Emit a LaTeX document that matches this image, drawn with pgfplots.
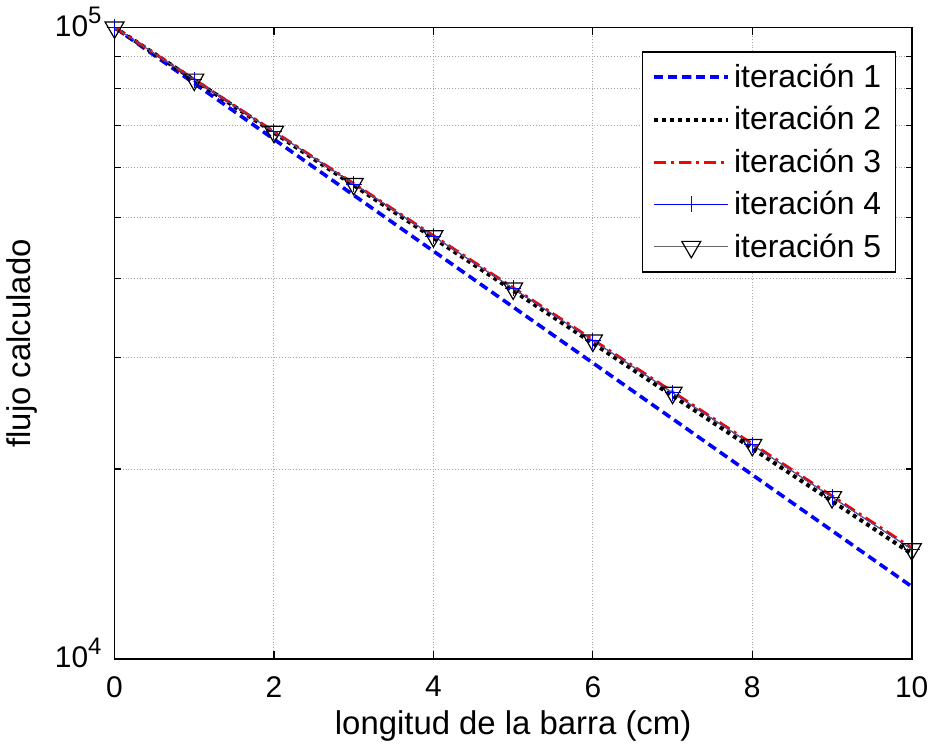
\documentclass[border=0pt]{standalone}
\usepackage{pgfplots}
\pgfplotsset{compat=1.18}
\usepackage{fontspec}
\setmainfont{Liberation Sans}

\definecolor{mblue}{RGB}{0,0,255}
\definecolor{mred}{RGB}{255,0,0}

\newcommand{\tenpow}[1]{10\raisebox{6.5pt}{\fontsize{12}{12}\selectfont #1}}

\begin{document}
\begin{tikzpicture}
  \begin{semilogyaxis}[
      scale only axis,
      width=400pt, height=317pt,
      xmin=0, xmax=10, ymin=1e4, ymax=1e5,
      xtick={0,2,4,6,8,10},
      ytick={1e4,1e5},
      yticklabels={\tenpow{4}, \tenpow{5}},
      /pgf/number format/assume math mode=true,
      tick label style={font=\fontsize{15}{18}\selectfont},
      xticklabel style={yshift=-5pt},
      yticklabel style={xshift=-3pt, yshift=3pt},
      label style={font=\fontsize{16.5}{20}\selectfont},
      xlabel={longitud de la barra (cm)},
      ylabel={flujo calculado},
      xlabel style={yshift=0pt},
      ylabel style={yshift=2pt},
      tick align=inside,
      major tick length=4pt,
      minor tick length=3pt,
      xmajorgrids, ymajorgrids, yminorgrids,
      major grid style={densely dotted, gray!70, line width=0.5pt},
      minor grid style={densely dotted, gray!70, line width=0.5pt},
      axis line style={line width=0.8pt},
      every tick/.style={black, line width=0.6pt},
      legend cell align=left,
      legend style={at={(0.98,0.962)}, anchor=north east,
        font=\fontsize{16}{19}\selectfont, draw=black, line width=0.6pt,
        row sep=4pt, inner xsep=5pt, inner ysep=4pt},
      legend image code/.code={%
        \draw[mark repeat=2,mark phase=2,#1]
          plot coordinates {(0cm,0cm) (0.65cm,0cm) (1.3cm,0cm)};},
    ]
    \addplot[mblue, line width=1.8pt, dash pattern=on 4.5pt off 2.5pt] coordinates {
      (0,100000) (1,81564) (2,66527) (3,54262) (4,44258) (5,36099)
      (6,29444) (7,24016) (8,19588) (9,15977) (10,13032)
    };
    \addlegendentry{iteración 1}
    \addplot[black, line width=2pt, dash pattern=on 2pt off 2pt] coordinates {
      (0,100000) (1,82546) (2,68138) (3,56245) (4,46428) (5,38324)
      (6,31635) (7,26113) (8,21555) (9,17793) (10,14687)
    };
    \addlegendentry{iteración 2}
    \addplot[mred, line width=1.5pt, dash pattern=on 6pt off 2.5pt on 1.5pt off 2.5pt] coordinates {
      (0,100000) (1,82720) (2,68420) (3,56600) (4,46820) (5,38730)
      (6,32040) (7,26500) (8,21920) (9,18130) (10,15000)
    };
    \addlegendentry{iteración 3}
    \addplot[mblue, line width=0.5pt, mark=+, mark size=4pt] coordinates {
      (0,100000) (1,82680) (2,68360) (3,56520) (4,46731) (5,38637)
      (6,31945) (7,26412) (8,21837) (9,18055) (10,14928)
    };
    \addlegendentry{iteración 4}
    \addplot[gray!80!black, line width=0.4pt, mark=triangle,
      mark options={black, rotate=180, line width=0.6pt}, mark size=5.5pt] coordinates {
      (0,100000) (1,82680) (2,68360) (3,56520) (4,46731) (5,38637)
      (6,31945) (7,26412) (8,21837) (9,18055) (10,14928)
    };
    \addlegendentry{iteración 5}
  \end{semilogyaxis}
\end{tikzpicture}
\end{document}
